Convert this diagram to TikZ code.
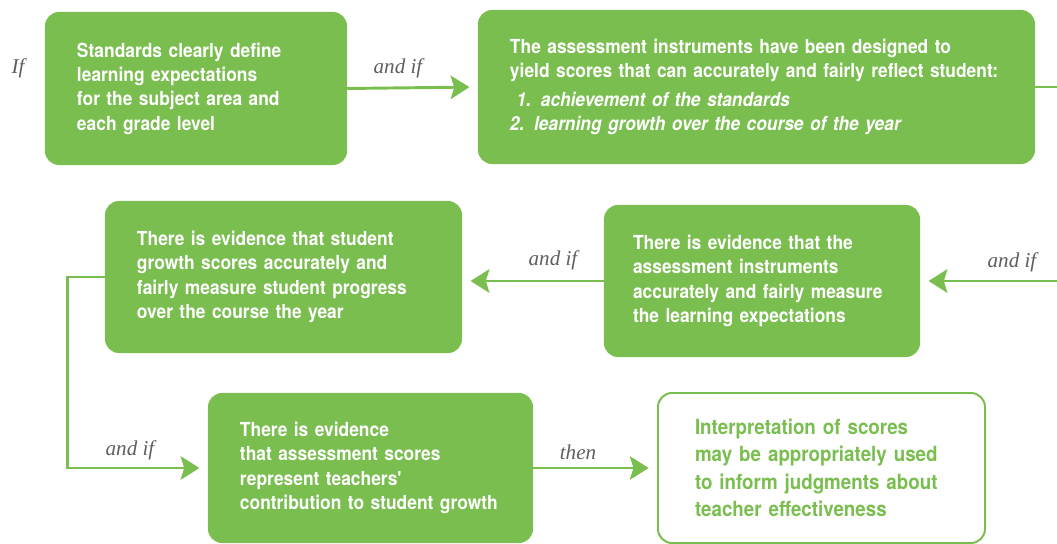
\documentclass[tikz,border=0pt]{standalone}
\usepackage{fontspec}
\usetikzlibrary{arrows.meta,positioning}
\newfontfamily\boxfont{TeX Gyre Heros}[FakeStretch=0.9]
\newfontfamily\labelfont{Liberation Serif}
\definecolor{leafgreen}{RGB}{122,190,80}
\definecolor{labelgrey}{RGB}{95,95,95}
\tikzset{
  stepbox/.style={fill=leafgreen, rounded corners=0.42cm, inner xsep=0.96cm,
    text=white, align=left, font=\boxfont\bfseries\fontsize{16.5}{20.8}\selectfont},
  endbox/.style={stepbox, fill=white, draw=leafgreen, line width=1.7pt, text=leafgreen},
  condlabel/.style={text=labelgrey, font=\labelfont\itshape\fontsize{18}{20}\selectfont},
  flow/.style={draw=leafgreen, line width=2.5pt, shorten >=0.25cm,
    -{Stealth[length=16pt, width=20pt, inset=3pt]}}
}

\begin{document}
\begin{tikzpicture}[x=0.03cm, y=-0.03cm]
  \useasboundingbox (0,0) rectangle (1057,544);
  \clip (0,0) rectangle (1057,544);
  % boxes
  \node (standards) [stepbox, minimum width=9.06cm, text width=7.14cm,
      minimum height=4.59cm] at (196,88.5)
    {Standards clearly define\\learning expectations\\for the subject area and\\each grade level};
  \node (instruments) [stepbox, minimum width=16.71cm, text width=14.79cm,
      minimum height=4.62cm] at (756.5,87)
    {The assessment instruments have been designed to\\
     yield scores that can accurately and fairly reflect student:\\[4pt]
     \hspace*{0.2cm}\itshape 1. achievement of the standards\\
     \itshape 2. learning growth over the course of the year};
  \node (evidence) [stepbox, minimum width=9.48cm, text width=7.74cm,
      inner xsep=0.87cm, minimum height=4.56cm] at (762,281)
    {There is evidence that the\\assessment instruments\\accurately and fairly measure\\the learning expectations};
  \node (growth) [stepbox, minimum width=10.71cm, text width=8.79cm,
      minimum height=4.56cm] at (283.5,277)
    {There is evidence that student\\growth scores accurately and\\fairly measure student progress\\over the course the year};
  \node (contribution) [stepbox, minimum width=9.75cm, text width=7.83cm,
      minimum height=4.5cm] at (370.5,468)
    {There is evidence\\that assessment scores\\represent teachers'\\contribution to student growth};
  \node (interpretation) [endbox, minimum width=9.81cm, text width=7.59cm,
      inner xsep=1.11cm, minimum height=4.5cm,
      font=\boxfont\bfseries\fontsize{17.8}{23.5}\selectfont] at (821.5,468)
    {Interpretation of scores\\may be appropriately used\\to inform judgments about\\teacher effectiveness};
  % labels
  \node (iflabel) [condlabel] at (18,68) {If};
  \node (andif1) [condlabel] at (398,68) {and if};
  \node (andif2) [condlabel] at (1012,262) {and if};
  \node (andif3) [condlabel] at (553,260) {and if};
  \node (andif4) [condlabel] at (130,450) {and if};
  \node (thenlabel) [condlabel] at (578,452) {then};
  % Draw arrows
  \draw [flow] (standards.east) -- (instruments.west);
  \draw [flow] (instruments.east) -- ++(45,0) |- (evidence.east);
  \draw [flow] (evidence.west) -- (evidence.west -| growth.east);
  \draw [flow] (growth.west) -- ++(-37,0) |- (contribution.west);
  \draw [flow] (contribution.east) -- (interpretation.west);
\end{tikzpicture}
\end{document}
